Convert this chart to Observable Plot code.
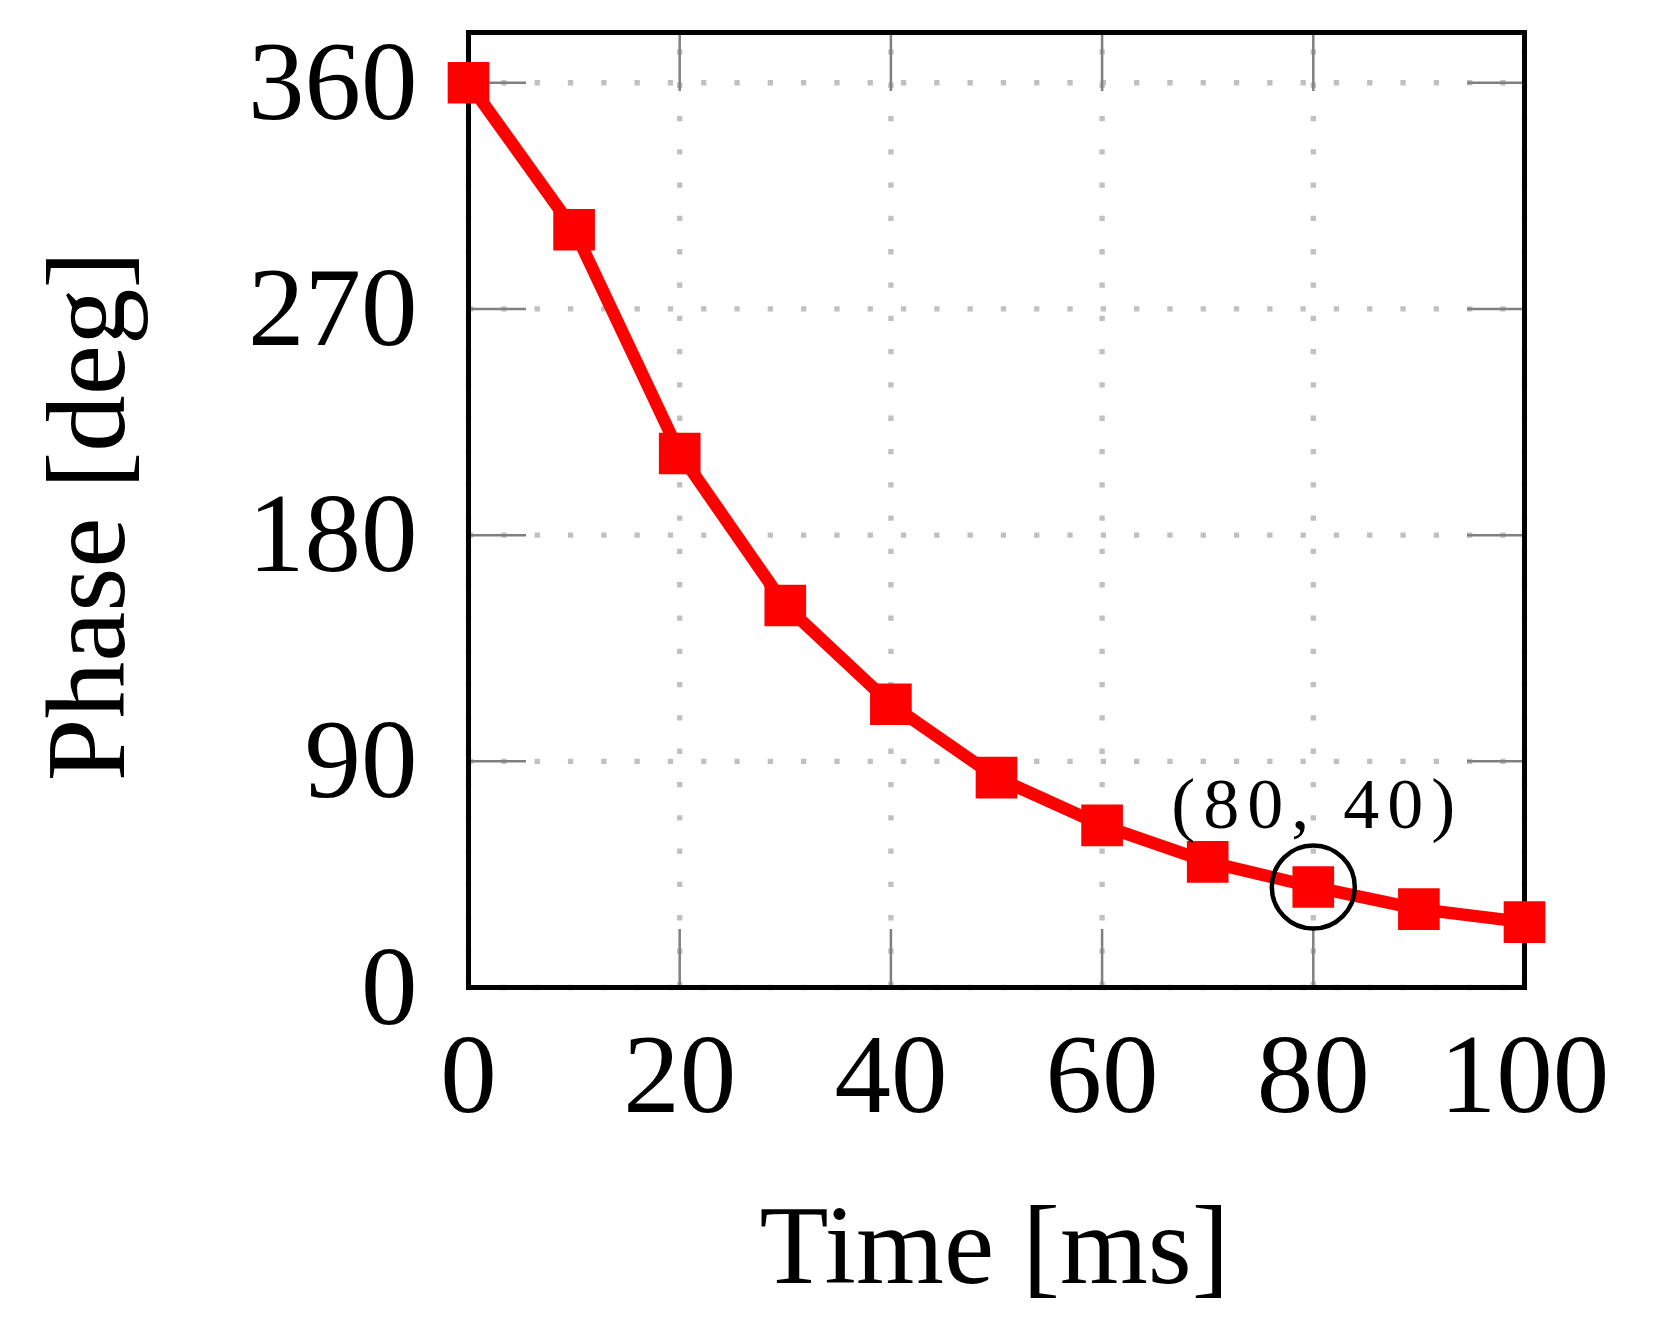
<!DOCTYPE html>
<html>
<head>
<meta charset="utf-8">
<script src="https://cdn.jsdelivr.net/npm/d3@7"></script>
<script src="https://cdn.jsdelivr.net/npm/@observablehq/plot@0.6"></script>
<style>
  html, body { margin: 0; padding: 0; background: #fff; }
  #chart svg { display: block; }
</style>
</head>
<body>
<div id="chart"></div>
<script>
// ---- data ----
const time  = [0, 10, 20, 30, 40, 50, 60, 70, 80, 90, 100];
const phase = [360, 301.5, 212.5, 152, 112.7, 83.5, 64.5, 50, 40, 31.2, 26];
const xTicks = [0, 20, 40, 60, 80, 100];
const yTicks = [0, 90, 180, 270, 360];
const xDomain = [0, 100];
const yDomain = [0, 380];
const xTitle = ["Time [ms]"];
const yTitle = ["Phase [deg]"];
const markedPoint = [80, 40];
const markedLabel = ["(80, 40)"];

const rows = time.map((t, i) => ({t, p: phase[i]}));
const marked = [{t: markedPoint[0], p: markedPoint[1], label: markedLabel[0]}];

const W = 1659, H = 1344;
const mL = 468, mR = 135, mT = 32, mB = 357;
const font = "Liberation Serif";
const big = 113;

const chart = Plot.plot({
  width: W,
  height: H,
  marginLeft: mL,
  marginRight: mR,
  marginTop: mT,
  marginBottom: mB,
  style: {fontFamily: font, background: "white", color: "black"},
  x: {domain: xDomain},
  y: {domain: yDomain},
  marks: [
    // dotted grid
    Plot.ruleY(yTicks, {x1: xDomain[0], x2: xDomain[1], stroke: "#c0c0c0", strokeWidth: 5.3, strokeDasharray: "5.3,28"}),
    Plot.ruleX(xTicks, {y1: yDomain[0], y2: yDomain[1], stroke: "#c0c0c0", strokeWidth: 5.3, strokeDasharray: "5.3,28"}),
    // inward ticks on all four sides
    Plot.axisY(yTicks, {anchor: "left", tickSize: -58, stroke: "#808080", strokeWidth: 2.5, fill: "none", label: null}),
    Plot.axisY(yTicks, {anchor: "right", tickSize: -58, stroke: "#808080", strokeWidth: 2.5, fill: "none", label: null}),
    Plot.axisX(xTicks, {anchor: "bottom", tickSize: -58, stroke: "#808080", strokeWidth: 2.5, fill: "none", label: null}),
    Plot.axisX(xTicks, {anchor: "top", tickSize: -58, stroke: "#808080", strokeWidth: 2.5, fill: "none", label: null}),
    // tick labels
    Plot.axisY(yTicks, {anchor: "left", tickSize: 0, tickPadding: 51, fontSize: big, label: null}),
    Plot.axisX(xTicks, {anchor: "bottom", tickSize: 0, tickPadding: 44, fontSize: big, label: null}),
    // frame
    Plot.frame({stroke: "black", strokeWidth: 5}),
    // data
    Plot.line(rows, {x: "t", y: "p", stroke: "red", strokeWidth: 12.5, strokeLinejoin: "miter"}),
    Plot.dot(rows, {x: "t", y: "p", symbol: "square", r: 23.5, fill: "red", stroke: "none"}),
    // annotation
    Plot.dot(marked, {x: "t", y: "p", r: 41.5, stroke: "black", strokeWidth: 4.5, fill: "none"}),
    Plot.text(marked, {x: "t", y: "p", text: "label", fontSize: 72, lineAnchor: "bottom", textAnchor: "middle", dy: -59, dx: 4, fill: "black"}),
    // axis titles
    Plot.text(xTitle, {frameAnchor: "bottom", lineAnchor: "bottom", textAnchor: "middle", fontSize: big, dy: 295, dx: -2, fill: "black"}),
    Plot.text(yTitle, {frameAnchor: "left", lineAnchor: "bottom", textAnchor: "middle", rotate: -90, fontSize: big, dx: -345, dy: 6, fill: "black"})
  ]
});

// widen spacing of the annotation text to mimic math typesetting
chart.querySelectorAll("text").forEach(t => {
  if (t.textContent === markedLabel[0]) t.setAttribute("letter-spacing", "8");
});

document.getElementById("chart").appendChild(chart);
</script>
</body>
</html>
